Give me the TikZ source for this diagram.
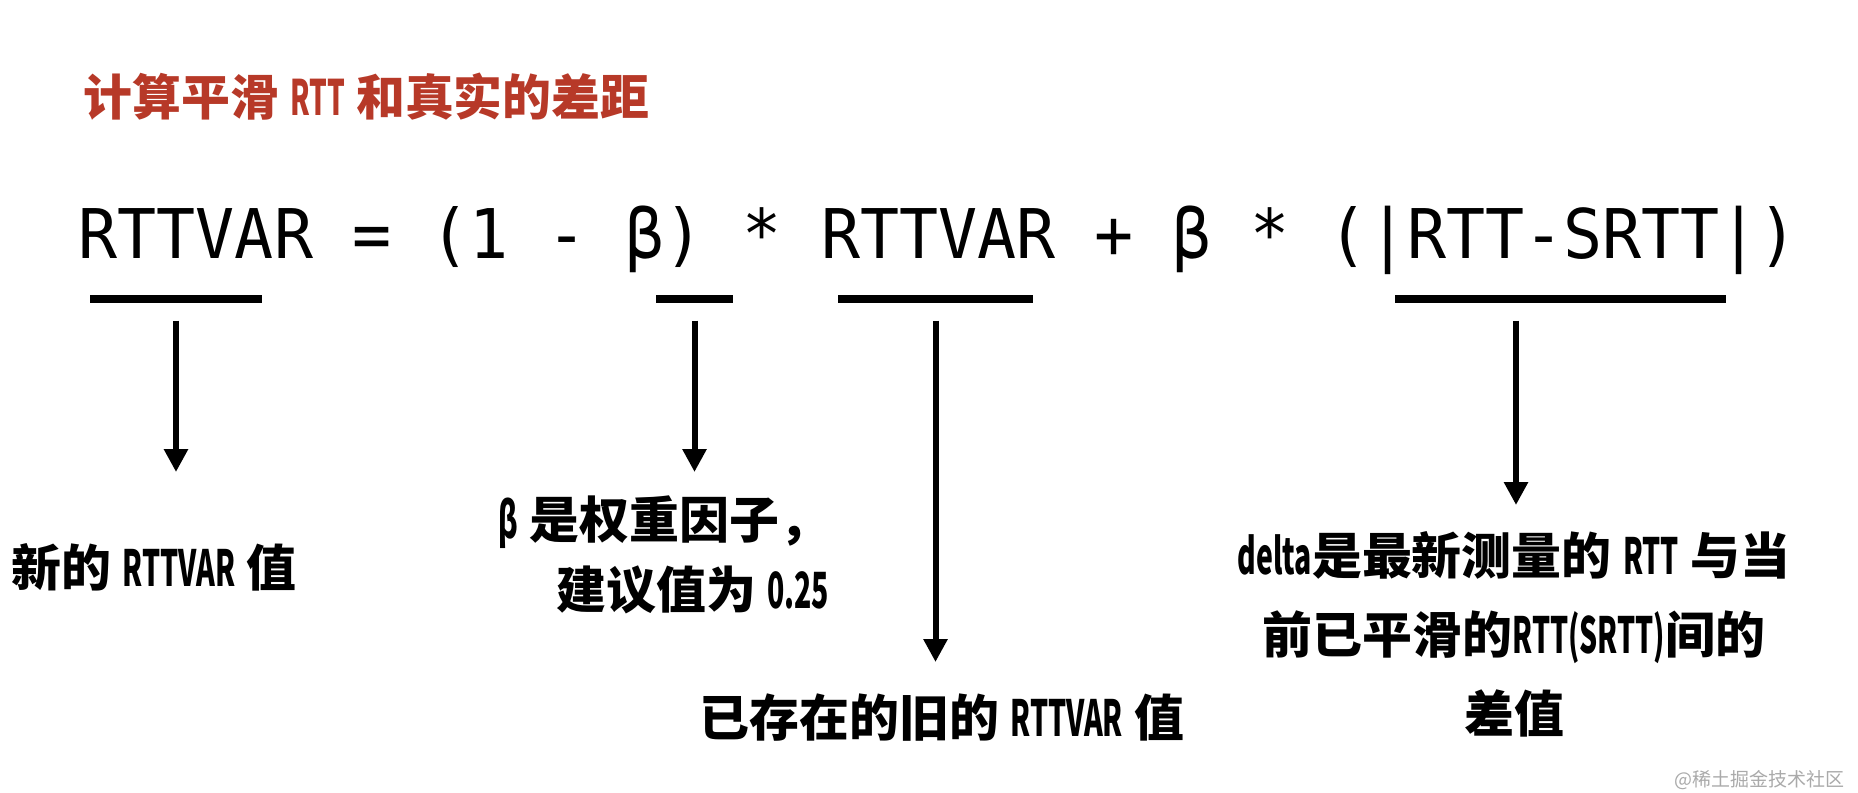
\documentclass[tikz,border=0pt]{standalone}
\usepackage{fontspec}
\usepackage{xcolor}
\usepackage{tikz}
\usetikzlibrary{positioning, arrows.meta}
\setmainfont{Noto Sans CJK SC}
\newfontfamily\condlat{Noto Sans CJK SC}[FakeStretch=0.57]
\newfontfamily\eqmono{DejaVu Sans Mono}[FakeStretch=0.947]
\newcommand{\lat}[1]{{\condlat #1}}
\definecolor{titlered}{RGB}{183,57,40}
\definecolor{markgray}{RGB}{170,170,170}

\begin{document}
\begin{tikzpicture}[x=0.1mm,y=-0.1mm,
  headline/.style={font=\fontsize{13.9}{16}\selectfont\bfseries, text=titlered, inner sep=0pt},
  formula/.style={font=\eqmono\fontsize{19.5}{22}\selectfont, inner sep=0pt},
  ubar/.style={fill=black, inner sep=0pt, minimum height=0.8mm},
  note/.style={font=\fontsize{14.2}{20}\selectfont\bfseries, inner sep=0pt},
  arr/.style={-{Triangle[length=2.3mm,width=2.3mm]}, line width=0.6mm, shorten <=1.7mm}]

  \path[fill=white, use as bounding box] (0,0) rectangle (1858,792);

  %% Title
  \node[headline, anchor=north west] (head) at (83,72) {计算平滑 \lat{RTT} 和真实的差距};

  %% Formula
  \node[formula, anchor=base west] (eq) at (78,258)
    {RTTVAR = (1 - β) * RTTVAR + β * (|RTT-SRTT|)};

  %% Underlines
  \node[ubar, minimum width=17.2mm] (u1) at (176,299) {};
  \node[ubar, minimum width=7.7mm] (u2) at (694.5,299) {};
  \node[ubar, minimum width=19.5mm] (u3) at (935.5,299) {};
  \node[ubar, minimum width=33.1mm] (u4) at (1560.5,299) {};

  %% Explanations
  \node[note, anchor=north west] (n1) at (11,543) {新的 \lat{RTTVAR} 值};
  \node[note, anchor=north east, align=right, font=\fontsize{14.2}{19.9}\selectfont\bfseries] (n2) at (830,495)
    {\lat{β} 是权重因子，\\建议值为 \lat{0.25}};
  \node[note, anchor=north west] (n3) at (699,693) {已存在的旧的 \lat{RTTVAR} 值};
  \node[note, anchor=north, align=center, font=\fontsize{14.2}{22.5}\selectfont\bfseries] (n4) at (1514,531)
    {\lat{delta}是最新测量的 \lat{RTT} 与当\\前已平滑的\lat{RTT(SRTT)}间的\\差值};

  %% Arrows
  \coordinate (t1) at (176,472);
  \coordinate (t2) at (694.5,472);
  \coordinate (t3) at (935.5,662);
  \coordinate (t4) at (1516,505);
  \draw[arr] (u1.south) -- (t1);
  \draw[arr] (u2.south) -- (t2);
  \draw[arr] (u3.south) -- (t3);
  \draw[arr] (u4.south -| t4) -- (t4);

  %% Watermark
  \node[anchor=east, inner sep=0pt, text=markgray, font=\fontsize{5.4}{6}\selectfont] (mark) at (1845,780) {@稀土掘金技术社区};
\end{tikzpicture}
\end{document}
